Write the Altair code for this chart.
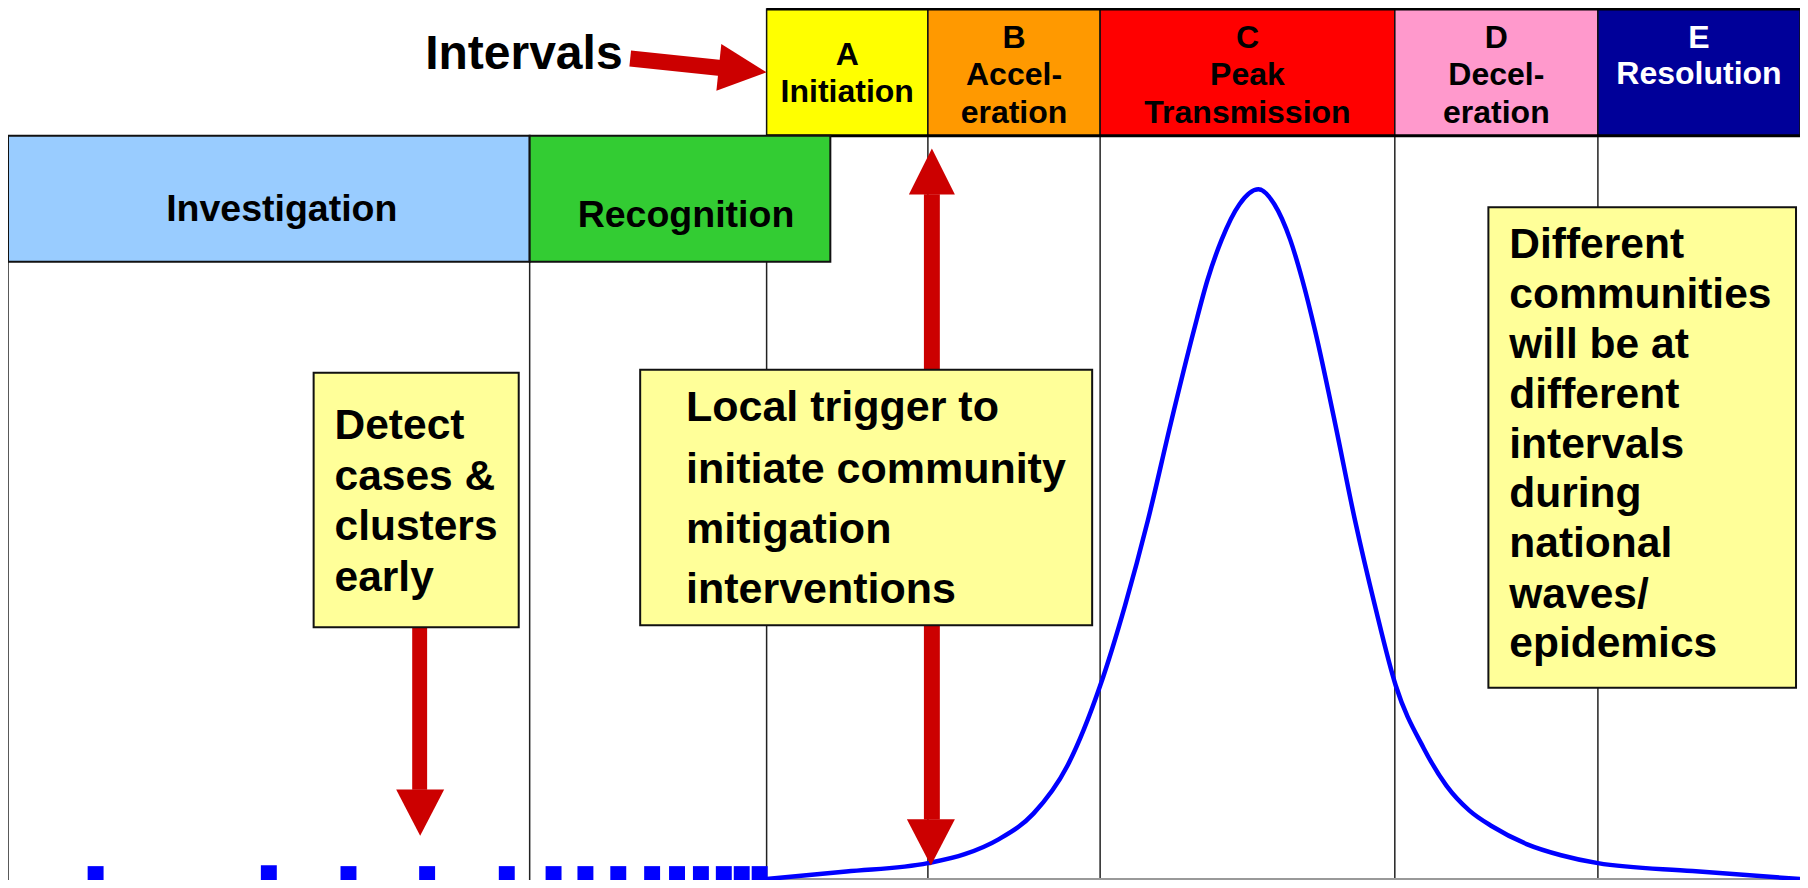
import altair as alt
import pandas as pd

# ---------------- data (diagram units = reference pixels) ----------------
interval_letters = ["A", "B", "C", "D", "E"]
interval_x0 = [770, 932, 1105, 1401, 1605]
interval_x1 = [932, 1105, 1401, 1605, 1808]
interval_fill = ["#FFFF00", "#FF9900", "#FF0000", "#FF99CC", "#000099"]
interval_lines = [["A", "Initiation"], ["B", "Accel-", "eration"], ["C", "Peak", "Transmission"],
                  ["D", "Decel-", "eration"], ["E", "Resolution"]]
interval_baselines = [[66, 103], [48, 86, 124], [48, 86, 124], [48, 86, 124], [48, 85]]
interval_text_color = ["black", "black", "black", "black", "white"]
header_top, header_bottom = 9, 137

phase_names = ["Investigation", "Recognition"]
phase_x0 = [8, 532]
phase_x1 = [532, 834]
phase_fill = ["#99CCFF", "#33CC33"]
phase_top, phase_bottom = 137, 264
phase_text_x = [283, 689]
phase_text_base = [223, 229]

divider_x = [8, 532, 770, 932, 1105, 1401, 1605]
divider_top = [137, 264, 264, 137, 137, 137, 137]
plot_bottom = 888

note_x0 = [315, 643, 1495]
note_x1 = [521, 1097, 1804]
note_y0 = [376, 373, 209]
note_y1 = [633, 631, 694]
note_text_x = [336, 689, 1516]
note_font = [42.5, 43, 42.5]
note_lines = [["Detect", "cases &", "clusters", "early"],
              ["Local trigger to", "initiate community", "mitigation", "interventions"],
              ["Different", "communities", "will be at", "different", "intervals", "during",
               "national", "waves/", "epidemics"]]
note_baselines = [[443, 494, 545, 596],
                  [425, 487, 548, 608],
                  [260, 311, 361, 412, 462, 512, 562, 613, 663]]

# epidemic curve (cases over time)
curve_x = [770, 850, 932, 969, 1003, 1038, 1072, 1105, 1130, 1153, 1176, 1199, 1213, 1227,
           1245, 1264, 1280, 1296, 1308, 1321, 1341, 1361, 1381, 1402, 1430, 1453, 1476,
           1499, 1534, 1568, 1605, 1700, 1808]
curve_y = [887, 879.5, 871, 862, 847, 821, 773, 692, 611, 525, 427, 334, 282, 242,
           206, 191, 206, 242, 282, 334, 427, 525, 611, 692, 755, 793, 818,
           834, 852, 863, 871, 879, 887]

# early sporadic cases (blue markers)
case_left = [88, 262, 342, 421, 501, 548, 580, 613, 647, 672, 696, 719, 737, 755]
case_top = [874, 873, 874, 874, 874, 874, 874, 874, 874, 874, 874, 874, 874, 874]
case_width = 16

# red arrows: shafts (rectangles) and heads
shaft_x0 = [414, 928, 928]
shaft_x1 = [429, 944, 944]
shaft_y0 = [633, 196, 631]
shaft_y1 = [797, 373, 827]
head_x = [422, 936, 935, 746]
head_y = [820, 173, 850, 70.4]
head_shape = ["M -1 -0.96 L 1 -0.96 L 0 0.96 Z",
              "M 0 -1 L 1 1 L -1 1 Z",
              "M -1 -0.96 L 1 -0.96 L 0 0.96 Z",
              "M 1 0 L -1 -0.98 L -1 0.98 Z"]
head_size = [2304, 2116, 2304, 2304]
head_angle = [0, 0, 0, 6]
slant_shaft = dict(x=[633], y=[59], x2=[724], y2=[68.5])

intervals_label = dict(text=["Intervals"], x=[427], y=[70])

# ---------------- scales ----------------
xs = alt.Scale(domain=[8, 1808], nice=False, zero=False)
ys = alt.Scale(domain=[8, 888], nice=False, zero=False, reverse=True)


def X(f):
    return alt.X(f, type="quantitative", scale=xs, axis=None)


def Y(f):
    return alt.Y(f, type="quantitative", scale=ys, axis=None)


FONT = "Liberation Sans"

# ---------------- tables ----------------
intervals_df = pd.DataFrame(dict(x0=interval_x0, x1=interval_x1, fill=interval_fill,
                                 y0=header_top, y1=header_bottom))
int_text = []
for i, lines in enumerate(interval_lines):
    for ln, b in zip(lines, interval_baselines[i]):
        int_text.append(dict(x=(interval_x0[i] + interval_x1[i]) / 2, y=b, text=ln,
                             color=interval_text_color[i]))
int_text_df = pd.DataFrame(int_text)

phase_df = pd.DataFrame(dict(x0=phase_x0, x1=phase_x1, fill=phase_fill, y0=phase_top,
                             y1=phase_bottom))
phase_text_df = pd.DataFrame(dict(x=phase_text_x, y=phase_text_base, text=phase_names))

div_df = pd.DataFrame(dict(x=divider_x, y=divider_top, y2=plot_bottom))

note_df = pd.DataFrame(dict(x0=note_x0, x1=note_x1, y0=note_y0, y1=note_y1))
nt = []
for i, lines in enumerate(note_lines):
    for ln, b in zip(lines, note_baselines[i]):
        nt.append(dict(x=note_text_x[i], y=b, text=ln, size=note_font[i]))
note_text_df = pd.DataFrame(nt)

curve_df = pd.DataFrame(dict(x=curve_x, y=curve_y))
cases_df = pd.DataFrame(dict(x0=case_left, x1=[c + case_width for c in case_left],
                             y0=case_top, y1=[plot_bottom] * len(case_left)))
shaft_df = pd.DataFrame(dict(x0=shaft_x0, x1=shaft_x1, y0=shaft_y0, y1=shaft_y1))
head_df = pd.DataFrame(dict(x=head_x, y=head_y, shape=head_shape, size=head_size,
                            angle=head_angle))
slant_df = pd.DataFrame(slant_shaft)
baseline_df = pd.DataFrame(dict(x=[770], x2=[1808], y=[887]))
lbl_df = pd.DataFrame(intervals_label)

# ---------------- layers ----------------
dividers = alt.Chart(div_df).mark_rule(color="#222222", strokeWidth=1.5).encode(
    x=X("x"), y=Y("y"), y2="y2")
baseline = alt.Chart(baseline_df).mark_rule(color="#999999", strokeWidth=2).encode(
    x=X("x"), x2="x2", y=Y("y"))

curve = alt.Chart(curve_df).mark_line(color="#0000FF", strokeWidth=4.5,
                                      interpolate="monotone").encode(x=X("x"), y=Y("y"))

cases = alt.Chart(cases_df).mark_rect(color="#0000FF").encode(
    x=X("x0"), x2="x1", y=Y("y0"), y2="y1")

interval_boxes = alt.Chart(intervals_df).mark_rect(stroke="#111111", strokeWidth=1.5).encode(
    x=X("x0"), x2="x1", y=Y("y0"), y2="y1", fill=alt.Fill("fill:N", scale=None))
header_edges = alt.Chart(pd.DataFrame(dict(x=[770, 770], x2=[1808, 1808],
                                           y=[header_top, header_bottom]))).mark_rule(
    color="black", strokeWidth=3).encode(x=X("x"), x2="x2", y=Y("y"))
interval_text = alt.Chart(int_text_df).mark_text(
    font=FONT, fontWeight="bold", fontSize=32, align="center", baseline="alphabetic").encode(
    x=X("x"), y=Y("y"), text="text:N", color=alt.Color("color:N", scale=None))

phase_boxes = alt.Chart(phase_df).mark_rect(stroke="#111111", strokeWidth=2).encode(
    x=X("x0"), x2="x1", y=Y("y0"), y2="y1", fill=alt.Fill("fill:N", scale=None))
phase_text = alt.Chart(phase_text_df).mark_text(
    font=FONT, fontWeight="bold", fontSize=37.5, align="center", baseline="alphabetic",
    color="black").encode(x=X("x"), y=Y("y"), text="text:N")

shafts = alt.Chart(shaft_df).mark_rect(color="#CC0000").encode(
    x=X("x0"), x2="x1", y=Y("y0"), y2="y1")
slant = alt.Chart(slant_df).mark_rule(color="#CC0000", strokeWidth=16, strokeCap="butt").encode(
    x=X("x"), x2="x2", y=Y("y"), y2="y2")
heads = alt.Chart(head_df).mark_point(filled=True, opacity=1, color="#CC0000",
                                      strokeWidth=0).encode(
    x=X("x"), y=Y("y"), shape=alt.Shape("shape:N", scale=None),
    size=alt.Size("size:Q", scale=None), angle=alt.Angle("angle:Q", scale=None))

notes = alt.Chart(note_df).mark_rect(fill="#FFFF99", stroke="#111111", strokeWidth=2).encode(
    x=X("x0"), x2="x1", y=Y("y0"), y2="y1")
note_text = alt.Chart(note_text_df).mark_text(
    font=FONT, fontWeight="bold", align="left", baseline="alphabetic", color="black").encode(
    x=X("x"), y=Y("y"), text="text:N", size=alt.Size("size:Q", scale=None))

intervals_lbl = alt.Chart(lbl_df).mark_text(
    font=FONT, fontWeight="bold", fontSize=48, align="left", baseline="alphabetic",
    color="black").encode(x=X("x"), y=Y("y"), text="text:N")

chart = alt.layer(
    dividers, baseline, curve, cases,
    interval_boxes, header_edges, interval_text,
    phase_boxes, phase_text,
    shafts, slant, heads,
    notes, note_text, intervals_lbl,
).properties(
    width=1792, height=872, padding=0, background="white",
    autosize=alt.AutoSizeParams(type="none"),
).configure_view(strokeWidth=0)

chart.save("out.html", embed_options={"renderer": "svg", "actions": False})
